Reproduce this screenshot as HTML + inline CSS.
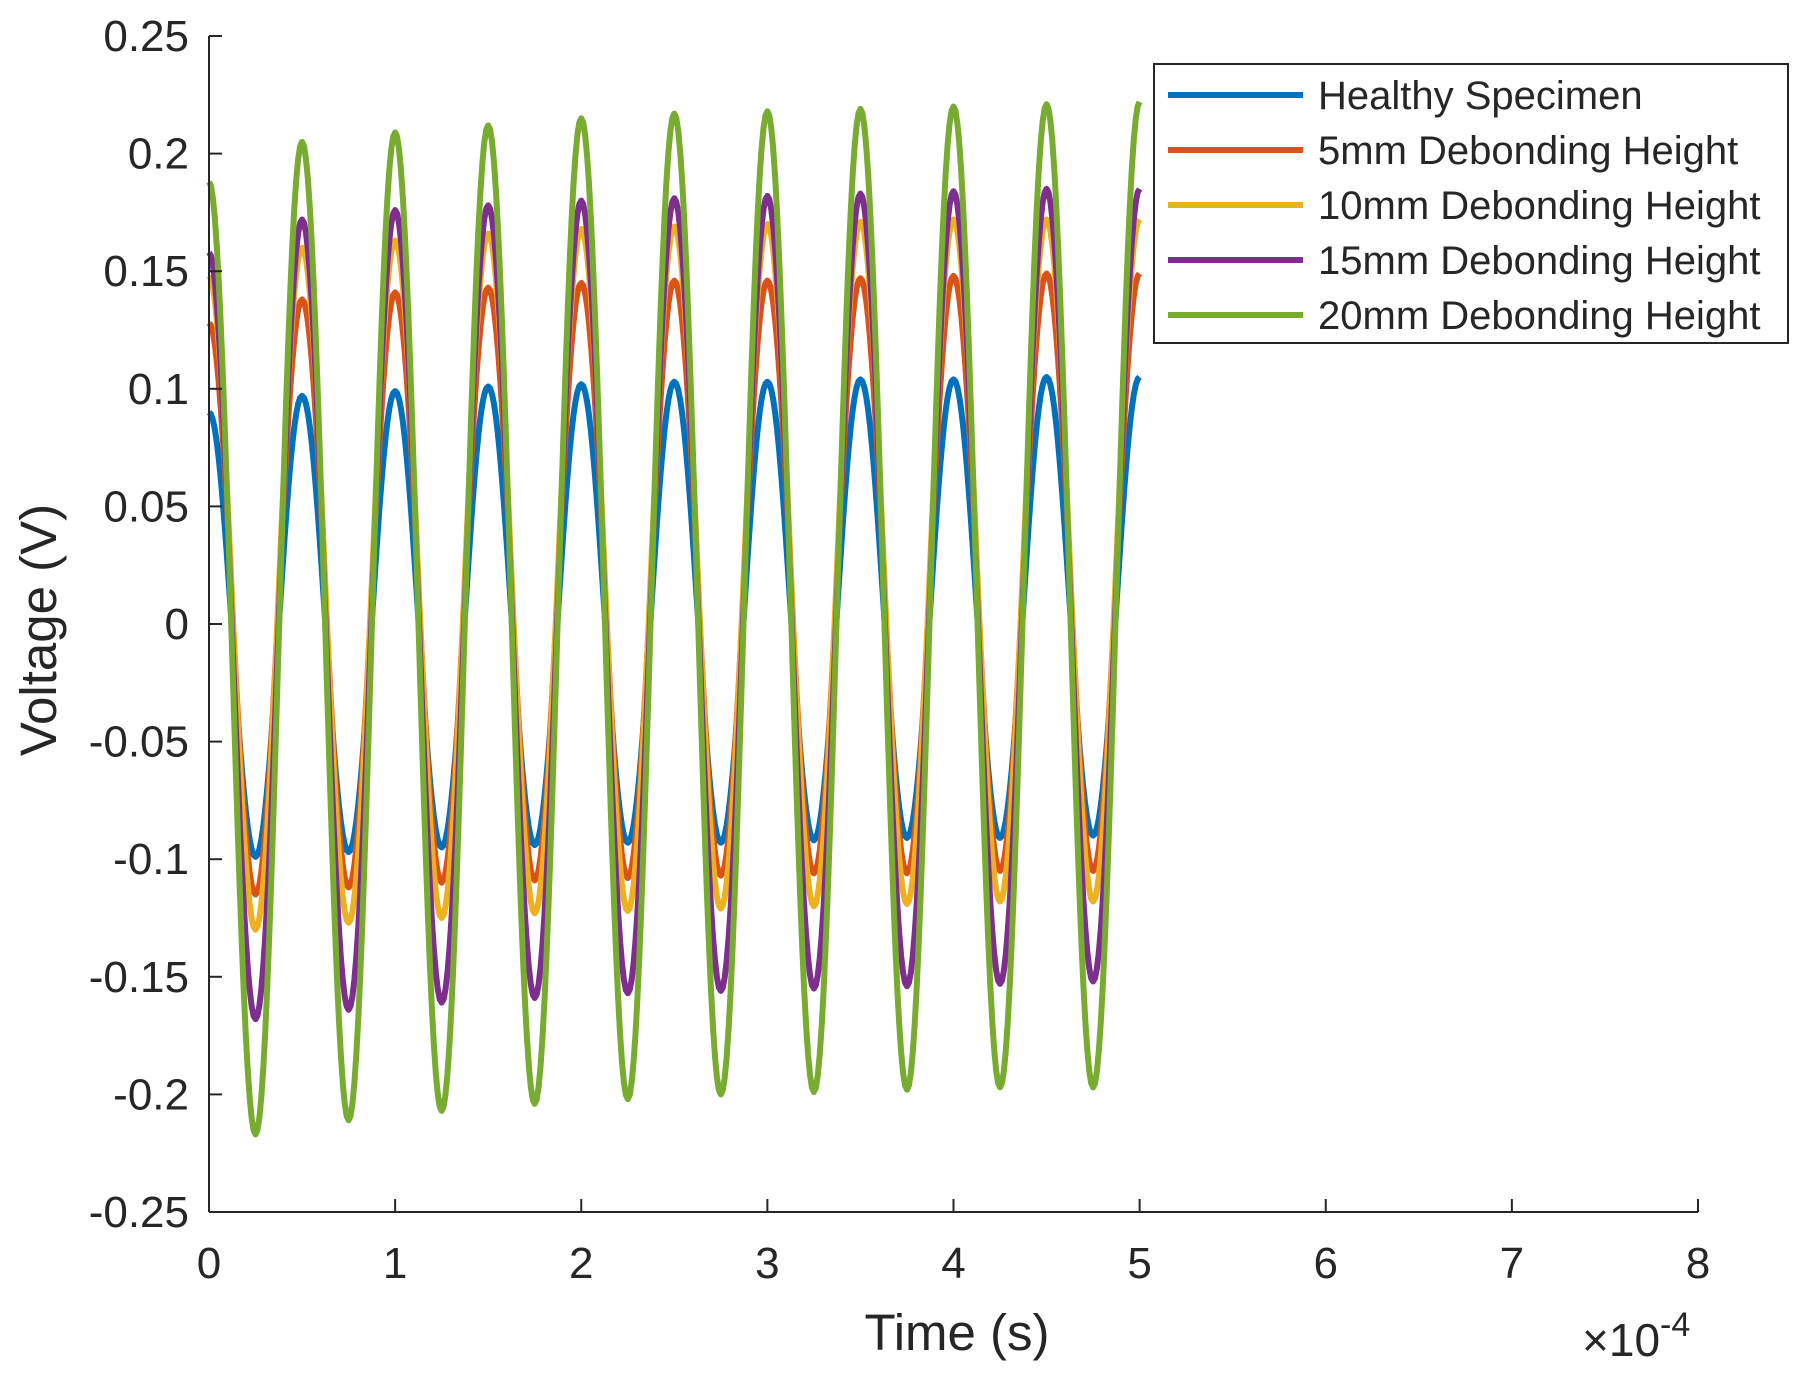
<!DOCTYPE html>
<html><head><meta charset="utf-8"><style>
html,body{margin:0;padding:0;background:#fff;}
svg text{font-family:"Liberation Sans",sans-serif;fill:#262626;}
</style></head><body>
<svg id="chart" width="1804" height="1380" viewBox="0 0 1804 1380" xmlns="http://www.w3.org/2000/svg">
<g id="plot"></g>
<g id="axes"></g>
<text x="957" y="1350" font-size="51" text-anchor="middle">Time (s)</text>
<text x="0" y="0" font-size="51" text-anchor="middle" transform="translate(56,630) rotate(-90)">Voltage (V)</text>
<text x="1582" y="1356" font-size="46">×10<tspan font-size="34" dy="-20">-4</tspan></text>
<g id="legend"></g>
</svg>
<script>
const seriesNames=["Healthy Specimen","5mm Debonding Height","10mm Debonding Height","15mm Debonding Height","20mm Debonding Height"];
const seriesColors=["#0072BD","#D95319","#EDB120","#7E2F8E","#77AC30"];
// extrema values at t = 0, 0.25, 0.5, ... 5.0 (×1e-4 s)
const healthy=[0.090,-0.099,0.097,-0.097,0.099,-0.095,0.101,-0.094,0.102,-0.093,0.103,-0.093,0.103,-0.092,0.104,-0.091,0.104,-0.091,0.105,-0.090,0.105];
const deb5=[0.128,-0.115,0.138,-0.112,0.141,-0.110,0.143,-0.109,0.145,-0.108,0.146,-0.107,0.146,-0.106,0.147,-0.106,0.148,-0.105,0.149,-0.105,0.149];
const deb10=[0.148,-0.130,0.160,-0.127,0.163,-0.125,0.166,-0.123,0.168,-0.122,0.169,-0.121,0.170,-0.120,0.171,-0.119,0.172,-0.118,0.172,-0.118,0.172];
const deb15=[0.158,-0.168,0.172,-0.164,0.176,-0.161,0.178,-0.159,0.180,-0.157,0.181,-0.156,0.182,-0.155,0.183,-0.154,0.184,-0.153,0.185,-0.152,0.185];
const deb20=[0.188,-0.217,0.205,-0.211,0.209,-0.207,0.212,-0.204,0.215,-0.202,0.217,-0.200,0.218,-0.199,0.219,-0.198,0.220,-0.197,0.221,-0.197,0.222];
const seriesData=[healthy,deb5,deb10,deb15,deb20];
const extremaStep=0.25;
const xTicks=[0,1,2,3,4,5,6,7,8];
const yTicks=[-0.25,-0.2,-0.15,-0.1,-0.05,0,0.05,0.1,0.15,0.2,0.25];
const yTickLabels=["-0.25","-0.2","-0.15","-0.1","-0.05","0","0.05","0.1","0.15","0.2","0.25"];

const L=209,R=1698,T=36,B=1212;
const xMin=0,xMax=8,yMin=-0.25,yMax=0.25;
function xs(v){return L+(v-xMin)/(xMax-xMin)*(R-L);}
function ys(v){return B-(v-yMin)/(yMax-yMin)*(B-T);}
const NS="http://www.w3.org/2000/svg";
function mk(tag,attrs,parent){const e=document.createElementNS(NS,tag);for(const k in attrs)e.setAttribute(k,attrs[k]);parent.appendChild(e);return e;}

const plot=document.getElementById('plot');
seriesData.forEach((arr,si)=>{
  let d="";
  for(let i=0;i<arr.length-1;i++){
    const a=arr[i],b=arr[i+1];
    const steps=24;
    for(let k=(i===0?0:1);k<=steps;k++){
      const u=k/steps;
      const t=(i+u)*extremaStep;
      const v=(a+b)/2+(a-b)/2*Math.cos(Math.PI*u);
      d+=(d?"L":"M")+xs(t).toFixed(2)+","+ys(v).toFixed(2);
    }
  }
  const p=mk('path',{d:d,fill:"none",stroke:seriesColors[si],"stroke-width":6,"stroke-linejoin":"round"},plot);
  
  
});

const axes=document.getElementById('axes');
const yl=mk('line',{x1:L,y1:T,x2:L,y2:B,stroke:"#262626","stroke-width":2},axes);


const xl=mk('line',{x1:L,y1:B,x2:R,y2:B,stroke:"#262626","stroke-width":2},axes);


xTicks.forEach(v=>{
  const tk=mk('line',{x1:xs(v),y1:B,x2:xs(v),y2:B-13,stroke:"#262626","stroke-width":2},axes);
  
  
  const tx=mk('text',{x:xs(v),y:B+66,"font-size":44,"text-anchor":"middle"},axes);
  tx.textContent=String(v);
  
  
});
yTicks.forEach((v,i)=>{
  const tk=mk('line',{x1:L,y1:ys(v),x2:L+13,y2:ys(v),stroke:"#262626","stroke-width":2},axes);
  
  
  const tx=mk('text',{x:L-20,y:ys(v)+15,"font-size":44,"text-anchor":"end"},axes);
  tx.textContent=yTickLabels[i];
  
  
});

const lg=document.getElementById('legend');
const box=mk('rect',{x:1154,y:64,width:634,height:279,fill:"#fff",stroke:"#262626","stroke-width":2},lg);


seriesNames.forEach((n,i)=>{
  const y=95+i*55;
  const g=mk('g',{},lg);
  
  
  mk('line',{x1:1168,y1:y,x2:1303,y2:y,stroke:seriesColors[i],"stroke-width":6},g);
  const t=mk('text',{x:1318,y:y+14,"font-size":40},g);
  t.textContent=n;
});
</script>
</body></html>
